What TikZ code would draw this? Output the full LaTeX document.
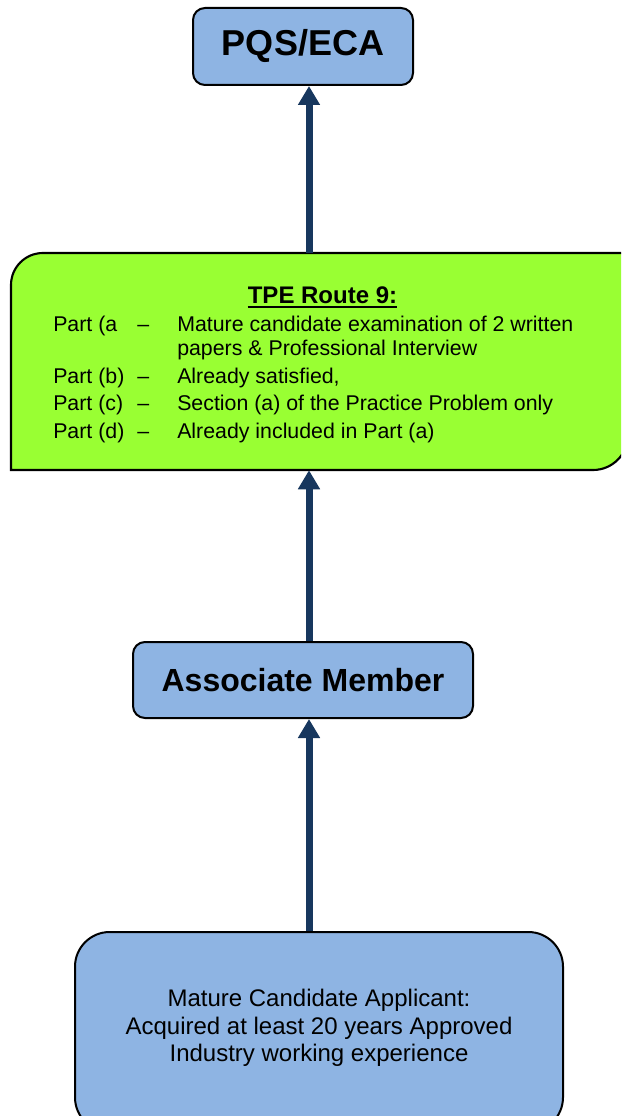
\documentclass[tikz,border=0pt]{standalone}
\usepackage{fontspec}
\setmainfont{Liberation Sans}
\usetikzlibrary{arrows.meta}
\definecolor{boxblue}{HTML}{8EB4E3}
\definecolor{boxgreen}{HTML}{99FF33}
\definecolor{arrowblue}{HTML}{17375E}
\begin{document}
\begin{tikzpicture}[x=0.75pt,y=-0.75pt,
  bluebox/.style={draw=black, line width=1.5pt, fill=boxblue, rounded corners=9pt, inner sep=0pt, align=center},
  txt/.style={inner sep=0pt, anchor=base west, font=\fontsize{16}{18}\selectfont},
  arr/.style={draw=arrowblue, line width=5.25pt, -{Triangle[width=15.75pt,length=14.25pt]}, fill=arrowblue, shorten >=0pt}]
\useasboundingbox (0,0) rectangle (621,1116);
\clip (0,0) rectangle (621,1116);
\fill[white] (0,0) rectangle (621,1116);
\coordinate (ax) at (309,0);

% top box
\node[bluebox, minimum width=165pt, minimum height=57.75pt, font=\bfseries\fontsize{27}{30}\selectfont] (pqs) at (303,46.5) {PQS/ECA};

% green box
\node[inner sep=0pt, minimum width=462.75pt, minimum height=162.75pt] (tpe) at (319.5,361.5) {};
\draw[line width=1.6pt, fill=boxgreen] (11,470) -- (11,285) .. controls (11,267.3) and (25.3,253) .. (43,253)
  -- (628,253) -- (628,435) .. controls (628,454.3) and (612.3,470) .. (593,470) -- cycle;
\node[inner sep=0pt, anchor=base, font=\bfseries\fontsize{18}{20}\selectfont] (ttl) at (322.5,303) {TPE Route 9:};
\draw[line width=1.4pt] ([yshift=-3pt]ttl.base west) -- ([yshift=-3pt]ttl.base east);

\node[txt] (pa) at (53,331) {Part (a};
\node[txt] (da) at (137,331) {–};
\node[txt] (ta) at (177,331) {Mature candidate examination of 2 written};
\node[txt] (ta2) at (177,355) {papers \& Professional Interview};
\node[txt] (pb) at (53,383) {Part (b)};
\node[txt] (db) at (137,383) {–};
\node[txt] (tb) at (177,383) {Already satisfied,};
\node[txt] (pc) at (53,410) {Part (c)};
\node[txt] (dc) at (137,410) {–};
\node[txt] (tc) at (177,410) {Section (a) of the Practice Problem only};
\node[txt] (pd) at (53,438) {Part (d)};
\node[txt] (dd) at (137,438) {–};
\node[txt] (td) at (177,438) {Already included in Part (a)};

% associate
\node[bluebox, minimum width=255pt, minimum height=57pt, font=\bfseries\fontsize{24}{28}\selectfont] (am) at (303,680) {Associate Member};

% bottom box
\node[draw=black, line width=1.5pt, fill=boxblue, rounded corners=26pt, inner sep=0pt, minimum width=366pt, minimum height=150pt] (mc) at (319,1032) {};
\node[inner sep=0pt, align=center, font=\fontsize{18}{20.6}\selectfont] (mct) at (319,1028) {Mature Candidate Applicant:\\Acquired at least 20 years Approved\\Industry working experience};

% arrows
\draw[arr] (tpe.north -| ax) -- (pqs.south -| ax);
\draw[arr] (am.north -| ax) -- (tpe.south -| ax);
\draw[arr] (mc.north -| ax) -- (am.south -| ax);
\end{tikzpicture}
\end{document}
